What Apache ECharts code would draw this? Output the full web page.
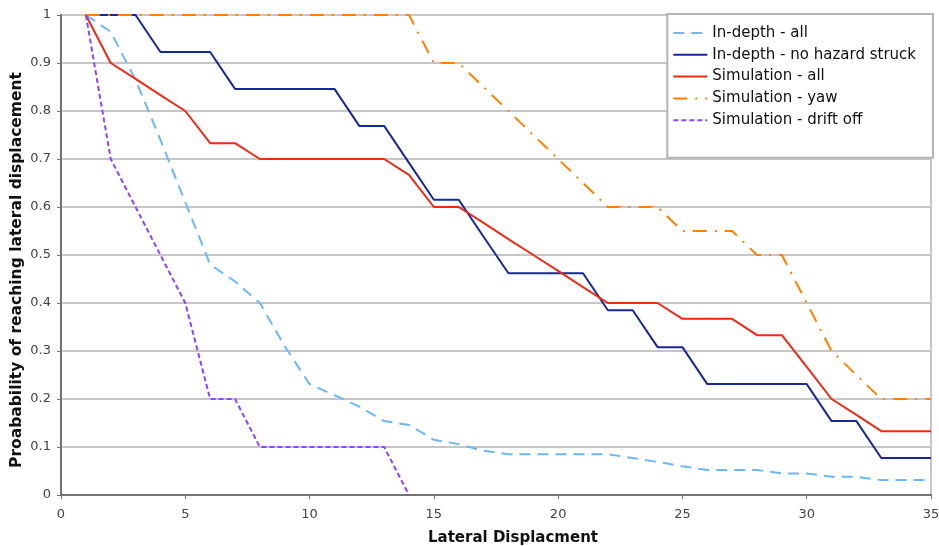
<!DOCTYPE html>
<html>
<head>
<meta charset="utf-8">
<script src="https://cdn.jsdelivr.net/npm/echarts@6/dist/echarts.min.js"></script>
<style>
html,body{margin:0;padding:0;background:#fff;}
#chart{width:939px;height:546px;}
</style>
</head>
<body>
<div id="chart"></div>
<script>
const xValues = [1,2,3,4,5,6,7,8,9,10,11,12,13,14,15,16,17,18,19,20,21,22,23,24,25,26,27,28,29,30,31,32,33,34,35];
const xTicks = [0,5,10,15,20,25,30,35];
const yTicks = [0,0.1,0.2,0.3,0.4,0.5,0.6,0.7,0.8,0.9,1];

const inDepthAll = [1,0.965,0.865,0.74,0.61,0.48,0.445,0.40,0.31,0.231,0.208,0.184,0.154,0.146,0.115,0.106,0.092,0.085,0.085,0.085,0.085,0.085,0.077,0.069,0.06,0.052,0.052,0.052,0.045,0.045,0.038,0.038,0.031,0.031,0.031];
const inDepthNoHazard = [1,1,1,0.923,0.923,0.923,0.846,0.846,0.846,0.846,0.846,0.769,0.769,0.692,0.615,0.615,0.538,0.462,0.462,0.462,0.462,0.385,0.385,0.308,0.308,0.231,0.231,0.231,0.231,0.231,0.154,0.154,0.077,0.077,0.077];
const simAll = [1,0.9,0.867,0.833,0.8,0.733,0.733,0.7,0.7,0.7,0.7,0.7,0.7,0.667,0.6,0.6,0.567,0.533,0.5,0.467,0.433,0.4,0.4,0.4,0.367,0.367,0.367,0.333,0.333,0.267,0.2,0.167,0.133,0.133,0.133];
const simYaw = [1,1,1,1,1,1,1,1,1,1,1,1,1,1,0.9,0.9,0.85,0.8,0.75,0.7,0.65,0.6,0.6,0.6,0.55,0.55,0.55,0.5,0.5,0.4,0.3,0.25,0.2,0.2,0.2];
const simDrift = [1,0.7,0.6,0.5,0.4,0.2,0.2,0.1,0.1,0.1,0.1,0.1,0.1,0];

const seriesNames = ["In-depth - all","In-depth - no hazard struck","Simulation - all","Simulation - yaw","Simulation - drift off"];
const seriesData = [inDepthAll, inDepthNoHazard, simAll, simYaw, simDrift];
const seriesColors = ["#6db6f7","#17299a","#ee2a16","#ff8000","#8a45ff"];
const seriesDash = [[11,7],"solid","solid",[14,8,2,8],[5,3]];

const chart = echarts.init(document.getElementById('chart'));
const font = "DejaVu Sans, Verdana, sans-serif";

chart.setOption({
  animation: false,
  backgroundColor: '#fff',
  grid: {left: 61, right: 8, top: 15, bottom: 51, outerBoundsMode: 'none', containLabel: false,
    show: true, borderColor: '#c6c6c6', borderWidth: 2},
  legend: {
    orient: 'vertical', right: 6, top: 14,
    padding: [11.5, 17, 30, 5],
    itemWidth: 34, itemHeight: 15, itemGap: 6.8,
    backgroundColor: '#fff', borderColor: '#b4b4b4', borderWidth: 2,
    itemStyle: {color: 'rgba(0,0,0,0)', borderWidth: 0, borderColor: 'rgba(0,0,0,0)'},
    textStyle: {fontFamily: font, fontSize: 15, lineHeight: 15, color: '#111'},
    data: seriesNames
  },
  xAxis: {
    type: 'value', min: 0, max: 35, interval: 5,
    name: 'Lateral Displacment', nameLocation: 'middle', nameGap: 36, nameMoveOverlap: false,
    nameTextStyle: {fontFamily: font, fontSize: 15, fontWeight: 'bold', color: '#111', padding: [0,0,0,34]},
    axisLine: {show: true, lineStyle: {color: '#727272', width: 2}},
    axisTick: {show: true, length: 4, lineStyle: {color: '#727272', width: 1}},
    axisLabel: {fontFamily: font, fontSize: 13, color: '#444', margin: 13,
      formatter: v => xTicks.includes(v) ? String(v) : ''},
    splitLine: {show: false}
  },
  yAxis: {
    type: 'value', min: 0, max: 1, interval: 0.1,
    name: 'Proabability of reaching lateral displacement', nameLocation: 'middle', nameGap: 36, nameMoveOverlap: false,
    nameTextStyle: {fontFamily: font, fontSize: 15.5, fontWeight: 'bold', color: '#111', padding: [0,30,0,0]},
    axisLine: {show: true, lineStyle: {color: '#727272', width: 2}},
    axisTick: {show: true, length: 4, lineStyle: {color: '#727272', width: 1}},
    axisLabel: {fontFamily: font, fontSize: 13, color: '#444', margin: 10,
      formatter: v => { const t = yTicks.find(k => Math.abs(k - v) < 1e-9); return t === undefined ? '' : String(t); }},
    splitLine: {show: true, lineStyle: {color: '#c6c6c6', width: 2}}
  },
  series: seriesNames.map((n, i) => ({
    name: n, type: 'line', symbol: 'none', showSymbol: false,
    data: seriesData[i].map((v, j) => [xValues[j], v]),
    lineStyle: {color: seriesColors[i], width: 2, type: seriesDash[i]},
    itemStyle: {color: seriesColors[i]}
  }))
});
</script>
</body>
</html>
